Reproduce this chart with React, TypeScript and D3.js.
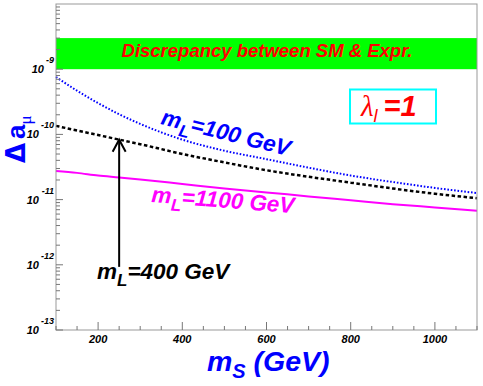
import React from "react";
import * as d3 from "d3";

// m_S grid (GeV)
const msGrid = [100, 150, 200, 250, 300, 400, 500, 600, 700, 800, 900, 1000, 1100];
// Delta a_mu for m_L = 100 GeV (blue, dotted)
const mL100 = [7.59e-10, 4.68e-10, 3.02e-10, 2.04e-10, 1.45e-10, 8.32e-11, 5.62e-11, 4.17e-11, 3.09e-11, 2.34e-11, 1.86e-11, 1.51e-11, 1.26e-11];
// m_L = 400 GeV (black, dashed)
const mL400 = [1.35e-10, 1.15e-10, 9.77e-11, 8.32e-11, 7.08e-11, 5.01e-11, 3.72e-11, 2.82e-11, 2.24e-11, 1.82e-11, 1.48e-11, 1.23e-11, 1.05e-11];
// m_L = 1100 GeV (magenta, solid)
const mL1100 = [2.75e-11, 2.57e-11, 2.34e-11, 2.19e-11, 2.04e-11, 1.74e-11, 1.48e-11, 1.29e-11, 1.12e-11, 9.77e-12, 8.51e-12, 7.59e-12, 6.76e-12];

// discrepancy band
const bandLow = 1e-9;
const bandHigh = 3e-9;

// arrow pointing to the m_L=400 curve
const arrowMs = 250;
const arrowFrom = 9.3e-13;
const arrowTo = 8.3e-11;

const xTicks = [200, 400, 600, 800, 1000];
const yDecades = [-13, -12, -11, -10, -9];

const W = 483;
const H = 386;
const left = 56, right = 477, top = 4, bottom = 330;

const font = "'Liberation Sans', Arial, Helvetica, sans-serif";
const greek = "'Liberation Serif', 'DejaVu Serif', serif";

export default function App() {
  const x = d3.scaleLinear().domain([100, 1100]).range([left, right]);
  const y = d3.scaleLog().domain([1e-13, 1e-8]).range([bottom, top]);

  const line = d3
    .line<number>()
    .x((_, i) => x(msGrid[i]))
    .y((d) => y(d))
    .curve(d3.curveMonotoneX);

  const xMinor = d3.range(100, 1101, 50).filter((v) => v % 200 !== 0);
  const yMinor: number[] = [];
  for (let e = -13; e < -8; e++) {
    for (let k = 2; k <= 9; k++) yMinor.push(k * Math.pow(10, e));
  }

  const ax = x(arrowMs);
  const ay0 = y(arrowFrom);
  const ay1 = y(arrowTo);

  const labelProps = {
    fontFamily: font,
    fontWeight: "bold",
    fontStyle: "italic",
    fontSize: 22.5,
  };

  return (
    <svg
      width={W}
      height={H}
      style={{ position: "absolute", left: 0, top: 0, background: "#fff" }}
    >
      <rect x={0} y={0} width={W} height={H} fill="#fff" />
      {/* band */}
      <rect
        x={left}
        y={y(bandHigh)}
        width={right - left}
        height={y(bandLow) - y(bandHigh)}
        fill="#00ff00"
      />
      <text
        x={267}
        y={57}
        textAnchor="middle"
        fontFamily={font}
        fontWeight="bold"
        fontStyle="italic"
        fontSize={18.5}
        fill="#ff0000"
      >
        Discrepancy between SM &amp; Expr.
      </text>

      {/* curves */}
      <path d={line(mL100) || ""} fill="none" stroke="#0000ff" strokeWidth={2} strokeDasharray="1.6,1.8" />
      <path d={line(mL400) || ""} fill="none" stroke="#000" strokeWidth={2.5} strokeDasharray="3.5,2.5" />
      <path d={line(mL1100) || ""} fill="none" stroke="#ff00ff" strokeWidth={2} />

      {/* frame */}
      <rect x={left} y={top} width={right - left} height={bottom - top} fill="none" stroke="#999" strokeWidth={1} />

      {/* x ticks */}
      {xTicks.map((t) => (
        <g key={"xt" + t}>
          <line x1={x(t)} x2={x(t)} y1={bottom} y2={bottom - 8} stroke="#777" />
          <text
            x={x(t)}
            y={343}
            textAnchor="middle"
            fontFamily={font}
            fontWeight="bold"
            fontStyle="italic"
            fontSize={11}
          >
            {t}
          </text>
        </g>
      ))}
      {xMinor.map((t) => (
        <line key={"xm" + t} x1={x(t)} x2={x(t)} y1={bottom} y2={bottom - 4} stroke="#777" />
      ))}

      {/* y ticks */}
      {yDecades.map((e) => {
        const yy = y(Math.pow(10, e));
        return (
          <g key={"yt" + e}>
            <line x1={left} x2={left + 7} y1={yy} y2={yy} stroke="#777" />
            <text
              x={54}
              y={yy - 6}
              textAnchor="end"
              fontFamily={font}
              fontWeight="bold"
              fontStyle="italic"
              fontSize={9}
            >
              {String(e)}
            </text>
            <text
              x={e <= -10 ? 39 : 44}
              y={yy + 4}
              textAnchor="end"
              fontFamily={font}
              fontWeight="bold"
              fontStyle="italic"
              fontSize={11}
            >
              10
            </text>
          </g>
        );
      })}
      {yMinor.map((v, i) => (
        <line key={"ym" + i} x1={left} x2={left + 4} y1={y(v)} y2={y(v)} stroke="#777" />
      ))}

      {/* arrow */}
      <line x1={ax} x2={ax} y1={ay0} y2={ay1 + 1} stroke="#000" strokeWidth={2} />
      <polyline
        points={`${ax - 6.5},${ay1 + 12} ${ax},${ay1} ${ax + 6.5},${ay1 + 12}`}
        fill="none"
        stroke="#000"
        strokeWidth={2}
      />

      {/* curve labels */}
      <text x={97} y={279} {...labelProps} fill="#000">
        m<tspan fontSize={17} dy={7}>L</tspan>
        <tspan dy={-7}>=400 GeV</tspan>
      </text>
      <text x={0} y={0} transform="translate(160,124) rotate(14)" {...labelProps} fill="#0000ff">
        m<tspan fontSize={17} dy={7}>L</tspan>
        <tspan dy={-7}>=100 GeV</tspan>
      </text>
      <text x={0} y={0} transform="translate(151,202) rotate(4.5)" {...labelProps} fill="#ff00ff">
        m<tspan fontSize={17} dy={7}>L</tspan>
        <tspan dy={-7}>=1100 GeV</tspan>
      </text>

      {/* lambda box */}
      <rect x={350} y={89.5} width={86} height={34} fill="#fff" stroke="#00ffff" strokeWidth={2} />
      <text x={361} y={116} fill="#ff0000" fontSize={29}>
        <tspan fontFamily={greek} fontStyle="italic">λ</tspan>
        <tspan fontFamily={font} fontStyle="italic" fontSize={18} dy={6}>l</tspan>
        <tspan fontFamily={font} fontWeight="bold" fontStyle="italic" dy={-6} dx={6}>=1</tspan>
      </text>

      {/* axis titles */}
      <text
        x={207}
        y={371}
        fontFamily={font}
        fontWeight="bold"
        fontStyle="italic"
        fontSize={28.5}
        fill="#0000ff"
      >
        m<tspan fontSize={20} dy={7}>S</tspan>
        <tspan dy={-7}> (GeV)</tspan>
      </text>
      <text
        x={0}
        y={0}
        transform="translate(25,163) rotate(-90)"
        fill="#0000ff"
        fontSize={26}
      >
        <tspan fontFamily="'DejaVu Sans', sans-serif" fontWeight="bold">Δ</tspan>
        <tspan fontFamily={font} fontWeight="bold" dx={4}>a</tspan>
        <tspan fontFamily={greek} fontSize={17} dy={6}>μ</tspan>
      </text>
    </svg>
  );
}
